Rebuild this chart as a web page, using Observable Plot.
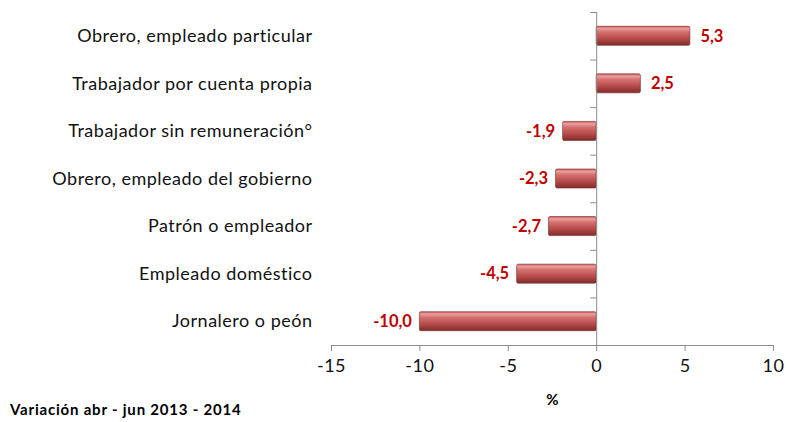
<!DOCTYPE html>
<html><head><meta charset="utf-8">
<script src="https://cdn.jsdelivr.net/npm/d3@7"></script>
<script src="https://cdn.jsdelivr.net/npm/@observablehq/plot@0.6"></script>
<style>
body{margin:0;background:#fff;font-family:Lato,sans-serif}
#wrap{position:relative;width:786px;height:422px}
#caption{position:absolute;left:10px;top:400px;font:bold 15px Lato,sans-serif;letter-spacing:0.8px;color:#000}
svg g[aria-label="y-axis tick label"] text{letter-spacing:0.5px}
svg g[aria-label="x-axis tick label"] text{letter-spacing:0.5px}
</style>
</head><body><div id="wrap"><div id="chart"></div><div id="caption">Variación abr - jun 2013 - 2014</div></div>
<script>
const categories = [
  "Obrero, empleado particular",
  "Trabajador por cuenta propia",
  "Trabajador sin remuneración°",
  "Obrero, empleado del gobierno",
  "Patrón o empleador",
  "Empleado doméstico",
  "Jornalero o peón"
];
const values = [5.3, 2.5, -1.9, -2.3, -2.7, -4.5, -10.0];
const valueLabels = ["5,3", "2,5", "-1,9", "-2,3", "-2,7", "-4,5", "-10,0"];
const xTicks = [-15, -10, -5, 0, 5, 10];
const xDomain = [-15, 10];

const data = categories.map((c, i) => ({cat: c, value: values[i], label: valueLabels[i]}));
const W = 786, H = 422, mL = 331, mR = 13, mT = 12, mB = 77;
const step = (H - mT - mB) / categories.length;
const pxPerUnit = (W - mL - mR) / (xDomain[1] - xDomain[0]);
const tickLen = 6 / pxPerUnit;
const axisColor = "#8c8c8c";

const plot = Plot.plot({
  width: W, height: H, marginLeft: mL, marginRight: mR, marginTop: mT, marginBottom: mB,
  style: {fontFamily: "Lato, sans-serif", fontSize: "18px", color: "#111", background: "#fff"},
  x: {domain: xDomain},
  y: {domain: categories, paddingInner: 0.6, paddingOuter: 0.3, round: false},
  marks: [
    Plot.barX(data, {x1: 0, x2: "value", y: "cat", fill: "url(#barGrad)", stroke: "#7a2a28", strokeWidth: 0.6, rx: 1.5}),
    Plot.frame({anchor: "bottom", stroke: axisColor}),
    Plot.ruleX([0], {stroke: axisColor}),
    Plot.ruleY(categories, {y: d => d, x1: -tickLen, x2: 0, dy: -step / 2, stroke: axisColor}),
    Plot.ruleY([categories[categories.length - 1]], {y: d => d, x1: -tickLen, x2: 0, dy: step / 2, stroke: axisColor}),
    Plot.axisX({ticks: xTicks, tickFormat: d => String(d), tickSize: 6, tickPadding: 8, stroke: axisColor, fill: "#111", label: null, fontSize: 18}),
    Plot.axisY({tickSize: 0, tickPadding: 19, label: null, fontSize: 18, fill: "#111"}),
    Plot.text(data.filter(d => d.value >= 0), {x: "value", y: "cat", text: "label", textAnchor: "start", dx: 10, fill: "#c00000", fontWeight: "bold", fontSize: 16.5}),
    Plot.text(data.filter(d => d.value < 0), {x: "value", y: "cat", text: "label", textAnchor: "end", dx: -8, fill: "#c00000", fontWeight: "bold", fontSize: 16.5}),
    Plot.text(["%"], {frameAnchor: "bottom", text: d => d, dy: 59, fontWeight: "bold", fontSize: 15, fill: "#000"})
  ]
});

const defs = d3.select(plot).insert("defs", ":first-child");
const grad = defs.append("linearGradient").attr("id", "barGrad")
  .attr("x1", 0).attr("y1", 0).attr("x2", 0).attr("y2", 1);
[[0, "#c25856"], [0.12, "#eaa09e"], [0.3, "#d4716f"], [0.65, "#b64b49"], [1, "#7f2d2b"]]
  .forEach(([o, c]) => grad.append("stop").attr("offset", o).attr("stop-color", c));

document.getElementById("chart").appendChild(plot);
</script>
</body></html>
